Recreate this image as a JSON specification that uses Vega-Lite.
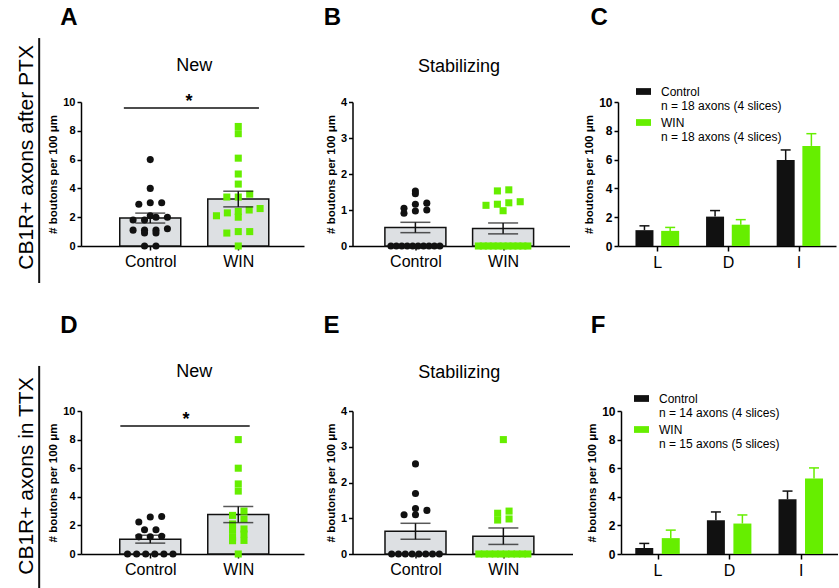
{
  "$schema": "https://vega.github.io/schema/vega-lite/v6.json",
  "background": "white",
  "padding": {"left": 16, "top": 5, "right": 0, "bottom": 0},
  "config": {
    "font": "Liberation Sans",
    "view": {"stroke": null},
    "axis": {"domainColor": "#000", "domainWidth": 1.5, "tickColor": "#000", "tickWidth": 1.5, "labelColor": "#000", "titleColor": "#000", "grid": false, "labelFont": "Liberation Sans", "titleFont": "Liberation Sans", "labelOverlap": false, "labelFlush": false, "labelBound": false},
    "legend": {"labelFont": "Liberation Sans", "labelColor": "#000"},
    "text": {"font": "Liberation Sans", "color": "#000"}
  },
  "datasets": {
    "pts": [
      {"panel": "A", "group": "Control", "v": 6.0}, {"panel": "A", "group": "Control", "v": 4.0}, {"panel": "A", "group": "Control", "v": 3.0}, {"panel": "A", "group": "Control", "v": 3.0}, {"panel": "A", "group": "Control", "v": 2.9}, {"panel": "A", "group": "Control", "v": 2.1}, {"panel": "A", "group": "Control", "v": 2.0}, {"panel": "A", "group": "Control", "v": 2.0}, {"panel": "A", "group": "Control", "v": 1.8}, {"panel": "A", "group": "Control", "v": 1.8}, {"panel": "A", "group": "Control", "v": 1.2}, {"panel": "A", "group": "Control", "v": 1.1}, {"panel": "A", "group": "Control", "v": 1.1}, {"panel": "A", "group": "Control", "v": 1.1}, {"panel": "A", "group": "Control", "v": 0.9}, {"panel": "A", "group": "Control", "v": 0.9}, {"panel": "A", "group": "Control", "v": 0}, {"panel": "A", "group": "Control", "v": 0},
      {"panel": "A", "group": "WIN", "v": 8.3}, {"panel": "A", "group": "WIN", "v": 7.8}, {"panel": "A", "group": "WIN", "v": 6.1}, {"panel": "A", "group": "WIN", "v": 5.0}, {"panel": "A", "group": "WIN", "v": 4.3}, {"panel": "A", "group": "WIN", "v": 3.6}, {"panel": "A", "group": "WIN", "v": 3.4}, {"panel": "A", "group": "WIN", "v": 3.4}, {"panel": "A", "group": "WIN", "v": 2.6}, {"panel": "A", "group": "WIN", "v": 2.5}, {"panel": "A", "group": "WIN", "v": 2.4}, {"panel": "A", "group": "WIN", "v": 2.3}, {"panel": "A", "group": "WIN", "v": 2.1}, {"panel": "A", "group": "WIN", "v": 2.0}, {"panel": "A", "group": "WIN", "v": 1.0}, {"panel": "A", "group": "WIN", "v": 1.0}, {"panel": "A", "group": "WIN", "v": 0.9}, {"panel": "A", "group": "WIN", "v": 0},
      {"panel": "B", "group": "Control", "v": 1.53}, {"panel": "B", "group": "Control", "v": 1.45}, {"panel": "B", "group": "Control", "v": 1.19}, {"panel": "B", "group": "Control", "v": 1.16}, {"panel": "B", "group": "Control", "v": 1.05}, {"panel": "B", "group": "Control", "v": 1.0}, {"panel": "B", "group": "Control", "v": 0.97}, {"panel": "B", "group": "Control", "v": 0.91}, {"panel": "B", "group": "Control", "v": 0}, {"panel": "B", "group": "Control", "v": 0}, {"panel": "B", "group": "Control", "v": 0}, {"panel": "B", "group": "Control", "v": 0}, {"panel": "B", "group": "Control", "v": 0}, {"panel": "B", "group": "Control", "v": 0}, {"panel": "B", "group": "Control", "v": 0}, {"panel": "B", "group": "Control", "v": 0}, {"panel": "B", "group": "Control", "v": 0}, {"panel": "B", "group": "Control", "v": 0},
      {"panel": "B", "group": "WIN", "v": 1.56}, {"panel": "B", "group": "WIN", "v": 1.53}, {"panel": "B", "group": "WIN", "v": 1.23}, {"panel": "B", "group": "WIN", "v": 1.2}, {"panel": "B", "group": "WIN", "v": 1.16}, {"panel": "B", "group": "WIN", "v": 1.13}, {"panel": "B", "group": "WIN", "v": 0.98}, {"panel": "B", "group": "WIN", "v": 0}, {"panel": "B", "group": "WIN", "v": 0}, {"panel": "B", "group": "WIN", "v": 0}, {"panel": "B", "group": "WIN", "v": 0}, {"panel": "B", "group": "WIN", "v": 0}, {"panel": "B", "group": "WIN", "v": 0}, {"panel": "B", "group": "WIN", "v": 0}, {"panel": "B", "group": "WIN", "v": 0}, {"panel": "B", "group": "WIN", "v": 0}, {"panel": "B", "group": "WIN", "v": 0}, {"panel": "B", "group": "WIN", "v": 0},
      {"panel": "D", "group": "Control", "v": 2.62}, {"panel": "D", "group": "Control", "v": 2.59}, {"panel": "D", "group": "Control", "v": 2.24}, {"panel": "D", "group": "Control", "v": 1.7}, {"panel": "D", "group": "Control", "v": 1.7}, {"panel": "D", "group": "Control", "v": 1.24}, {"panel": "D", "group": "Control", "v": 1.2}, {"panel": "D", "group": "Control", "v": 1.2}, {"panel": "D", "group": "Control", "v": 0}, {"panel": "D", "group": "Control", "v": 0}, {"panel": "D", "group": "Control", "v": 0}, {"panel": "D", "group": "Control", "v": 0}, {"panel": "D", "group": "Control", "v": 0}, {"panel": "D", "group": "Control", "v": 0},
      {"panel": "D", "group": "WIN", "v": 8.0}, {"panel": "D", "group": "WIN", "v": 6.0}, {"panel": "D", "group": "WIN", "v": 4.9}, {"panel": "D", "group": "WIN", "v": 4.4}, {"panel": "D", "group": "WIN", "v": 3.0}, {"panel": "D", "group": "WIN", "v": 2.7}, {"panel": "D", "group": "WIN", "v": 2.45}, {"panel": "D", "group": "WIN", "v": 2.1}, {"panel": "D", "group": "WIN", "v": 1.75}, {"panel": "D", "group": "WIN", "v": 1.65}, {"panel": "D", "group": "WIN", "v": 1.4}, {"panel": "D", "group": "WIN", "v": 1.15}, {"panel": "D", "group": "WIN", "v": 0.95}, {"panel": "D", "group": "WIN", "v": 0.93}, {"panel": "D", "group": "WIN", "v": 0},
      {"panel": "E", "group": "Control", "v": 2.52}, {"panel": "E", "group": "Control", "v": 1.69}, {"panel": "E", "group": "Control", "v": 1.27}, {"panel": "E", "group": "Control", "v": 1.22}, {"panel": "E", "group": "Control", "v": 1.1}, {"panel": "E", "group": "Control", "v": 1.1}, {"panel": "E", "group": "Control", "v": 0}, {"panel": "E", "group": "Control", "v": 0}, {"panel": "E", "group": "Control", "v": 0}, {"panel": "E", "group": "Control", "v": 0}, {"panel": "E", "group": "Control", "v": 0}, {"panel": "E", "group": "Control", "v": 0}, {"panel": "E", "group": "Control", "v": 0}, {"panel": "E", "group": "Control", "v": 0},
      {"panel": "E", "group": "WIN", "v": 3.2}, {"panel": "E", "group": "WIN", "v": 1.2}, {"panel": "E", "group": "WIN", "v": 1.14}, {"panel": "E", "group": "WIN", "v": 0.98}, {"panel": "E", "group": "WIN", "v": 0.95}, {"panel": "E", "group": "WIN", "v": 0}, {"panel": "E", "group": "WIN", "v": 0}, {"panel": "E", "group": "WIN", "v": 0}, {"panel": "E", "group": "WIN", "v": 0}, {"panel": "E", "group": "WIN", "v": 0}, {"panel": "E", "group": "WIN", "v": 0}, {"panel": "E", "group": "WIN", "v": 0}, {"panel": "E", "group": "WIN", "v": 0}, {"panel": "E", "group": "WIN", "v": 0}, {"panel": "E", "group": "WIN", "v": 0}
    ],
    "bars": [
      {"panel": "C", "region": "L", "group": "Control", "mean": 1.1, "upper": 1.4},
      {"panel": "C", "region": "L", "group": "WIN", "mean": 1.05, "upper": 1.29},
      {"panel": "C", "region": "D", "group": "Control", "mean": 2.04, "upper": 2.46},
      {"panel": "C", "region": "D", "group": "WIN", "mean": 1.48, "upper": 1.83},
      {"panel": "C", "region": "I", "group": "Control", "mean": 5.97, "upper": 6.67},
      {"panel": "C", "region": "I", "group": "WIN", "mean": 6.95, "upper": 7.8},
      {"panel": "F", "region": "L", "group": "Control", "mean": 0.42, "upper": 0.74},
      {"panel": "F", "region": "L", "group": "WIN", "mean": 1.11, "upper": 1.67},
      {"panel": "F", "region": "D", "group": "Control", "mean": 2.36, "upper": 2.94},
      {"panel": "F", "region": "D", "group": "WIN", "mean": 2.13, "upper": 2.73},
      {"panel": "F", "region": "I", "group": "Control", "mean": 3.82, "upper": 4.4},
      {"panel": "F", "region": "I", "group": "WIN", "mean": 5.28, "upper": 6.02}
    ]
  },
  "bounds": "flush",
  "spacing": 309,
  "resolve": {"scale": {"color": "independent", "shape": "independent"}, "legend": {"color": "independent", "shape": "independent"}},
  "vconcat": [
    {
      "bounds": "flush",
      "spacing": 48.5,
      "resolve": {"scale": {"color": "independent", "shape": "independent"}, "legend": {"color": "independent", "shape": "independent"}},
      "hconcat": [
        {
          "width": 223, "height": 144,
          "layer": [
            {
              "data": {"name": "pts"},
              "transform": [{"filter": "datum.panel === 'A'"}, {"calculate": "datum.group === 'Control' ? 1 : 2", "as": "gx"}],
              "mark": {"type": "bar", "width": 61, "fill": "#DDE0E3", "stroke": "#111", "strokeWidth": 1.5},
              "encoding": {
                "x": {"field": "gx", "type": "quantitative", "title": null, "scale": {"domain": [0.27, 2.69], "nice": false, "zero": false}, "axis": {"values": [1, 2], "labelExpr": "datum.value === 1 ? 'Control' : 'WIN'", "title": null, "labelFontSize": 16, "labelPadding": 3, "tickSize": 4}},
                "y": {"aggregate": "mean", "field": "v", "type": "quantitative", "title": "# boutons per 100 μm", "scale": {"domain": [0, 10], "nice": false}, "axis": {"values": [0, 2, 4, 6, 8, 10], "tickCount": 6, "labelOverlap": false, "labelFontSize": 11, "labelFontWeight": "bold", "titleFontSize": 11.5, "titleFontWeight": "bold", "tickSize": 4, "labelPadding": 2}}
              }
            },
            {
              "data": {"name": "pts"},
              "transform": [{"filter": "datum.panel === 'A'"}, {"calculate": "datum.group === 'Control' ? 1 : 2", "as": "gx"}, {"calculate": "floor(datum.v * 14.4 / 7.5)", "as": "bin"}, {"window": [{"op": "row_number", "as": "rk"}], "groupby": ["gx", "bin"], "sort": [{"field": "v", "order": "ascending"}]}, {"joinaggregate": [{"op": "count", "as": "cnt"}], "groupby": ["gx", "bin"]}, {"calculate": "datum.gx + (datum.rk - (datum.cnt + 1) / 2) * min(0.13, 0.62 / datum.cnt)", "as": "xo"}],
              "mark": {"type": "point", "filled": true, "opacity": 1, "size": 50, "strokeWidth": 0},
              "encoding": {
                "x": {"field": "xo", "type": "quantitative", "title": null},
                "y": {"field": "v", "type": "quantitative", "title": "# boutons per 100 μm", "axis": {"values": [0, 2, 4, 6, 8, 10], "tickCount": 6, "labelOverlap": false}},
                "color": {"field": "group", "type": "nominal", "scale": {"domain": ["Control", "WIN"], "range": ["#111111", "#66EE00"]}, "legend": null},
                "shape": {"field": "group", "type": "nominal", "scale": {"domain": ["Control", "WIN"], "range": ["circle", "square"]}, "legend": null}
              }
            },
            {
              "data": {"name": "pts"},
              "transform": [{"filter": "datum.panel === 'A'"}, {"calculate": "datum.group === 'Control' ? 1 : 2", "as": "gx"}],
              "mark": {"type": "errorbar", "extent": "stderr", "orient": "vertical", "ticks": true, "color": "#111", "thickness": 1.5, "size": 30},
              "encoding": {"x": {"field": "gx", "type": "quantitative", "title": null}, "y": {"field": "v", "type": "quantitative", "title": "# boutons per 100 μm", "axis": {"values": [0, 2, 4, 6, 8, 10], "tickCount": 6, "labelOverlap": false}}}
            },
            {"data": {"values": [{}]}, "mark": {"type": "rule", "strokeWidth": 1.5, "color": "#111"}, "encoding": {"x": {"datum": 0.70}, "x2": {"datum": 2.235}, "y": {"datum": 9.58}}},
            {"data": {"values": [{}]}, "mark": {"type": "text", "text": "*", "fontSize": 18, "fontWeight": "bold", "align": "center", "baseline": "alphabetic"}, "encoding": {"x": {"datum": 1.44}, "y": {"datum": 9.65}}},
            {"data": {"values": [{}]}, "mark": {"type": "text", "text": "New", "fontSize": 18, "align": "center", "baseline": "alphabetic"}, "encoding": {"x": {"datum": 1.5}, "y": {"datum": 12.15}}},
            {"data": {"values": [{}]}, "mark": {"type": "text", "text": "A", "fontSize": 24, "fontWeight": "bold", "align": "left", "baseline": "alphabetic"}, "encoding": {"x": {"datum": -0.023}, "y": {"datum": 15.35}}},
            {"data": {"values": [{}]}, "mark": {"type": "text", "text": "CB1R+ axons after PTX", "fontSize": 21, "angle": 270, "align": "center", "baseline": "alphabetic"}, "encoding": {"x": {"datum": -0.327}, "y": {"datum": 6.15}}},
            {"data": {"values": [{}]}, "mark": {"type": "rule", "strokeWidth": 2, "color": "#111"}, "encoding": {"x": {"datum": -0.262}, "y": {"datum": 14.44}, "y2": {"datum": -2.57}}}
          ]
        },
        {
          "width": 217, "height": 144,
          "layer": [
            {
              "data": {"name": "pts"},
              "transform": [{"filter": "datum.panel === 'B'"}, {"calculate": "datum.group === 'Control' ? 1 : 2", "as": "gx"}],
              "mark": {"type": "bar", "width": 61, "fill": "#DDE0E3", "stroke": "#111", "strokeWidth": 1.5},
              "encoding": {
                "x": {"field": "gx", "type": "quantitative", "title": null, "scale": {"domain": [0.34, 2.70], "nice": false, "zero": false}, "axis": {"values": [1, 2], "labelExpr": "datum.value === 1 ? 'Control' : 'WIN'", "title": null, "labelFontSize": 16, "labelPadding": 3, "tickSize": 4}},
                "y": {"aggregate": "mean", "field": "v", "type": "quantitative", "title": "# boutons per 100 μm", "scale": {"domain": [0, 4], "nice": false}, "axis": {"values": [0, 1, 2, 3, 4], "tickCount": 5, "labelOverlap": false, "labelFontSize": 11, "labelFontWeight": "bold", "titleFontSize": 11.5, "titleFontWeight": "bold", "tickSize": 4, "labelPadding": 2}}
              }
            },
            {
              "data": {"name": "pts"},
              "transform": [{"filter": "datum.panel === 'B'"}, {"calculate": "datum.group === 'Control' ? 1 : 2", "as": "gx"}, {"calculate": "floor(datum.v * 36 / 7.5)", "as": "bin"}, {"window": [{"op": "row_number", "as": "rk"}], "groupby": ["gx", "bin"], "sort": [{"field": "v", "order": "ascending"}]}, {"joinaggregate": [{"op": "count", "as": "cnt"}], "groupby": ["gx", "bin"]}, {"calculate": "datum.gx + (datum.rk - (datum.cnt + 1) / 2) * min(0.13, 0.62 / datum.cnt)", "as": "xo"}],
              "mark": {"type": "point", "filled": true, "opacity": 1, "size": 50, "strokeWidth": 0},
              "encoding": {
                "x": {"field": "xo", "type": "quantitative", "title": null},
                "y": {"field": "v", "type": "quantitative", "title": "# boutons per 100 μm", "axis": {"values": [0, 1, 2, 3, 4], "tickCount": 5, "labelOverlap": false}},
                "color": {"field": "group", "type": "nominal", "scale": {"domain": ["Control", "WIN"], "range": ["#111111", "#66EE00"]}, "legend": null},
                "shape": {"field": "group", "type": "nominal", "scale": {"domain": ["Control", "WIN"], "range": ["circle", "square"]}, "legend": null}
              }
            },
            {
              "data": {"name": "pts"},
              "transform": [{"filter": "datum.panel === 'B'"}, {"calculate": "datum.group === 'Control' ? 1 : 2", "as": "gx"}],
              "mark": {"type": "errorbar", "extent": "stderr", "orient": "vertical", "ticks": true, "color": "#111", "thickness": 1.5, "size": 30},
              "encoding": {"x": {"field": "gx", "type": "quantitative", "title": null}, "y": {"field": "v", "type": "quantitative", "title": "# boutons per 100 μm", "axis": {"values": [0, 1, 2, 3, 4], "tickCount": 5, "labelOverlap": false}}}
            },
            {"data": {"values": [{}]}, "mark": {"type": "text", "text": "Stabilizing", "fontSize": 18, "align": "center", "baseline": "alphabetic"}, "encoding": {"x": {"datum": 1.497}, "y": {"datum": 4.84}}},
            {"data": {"values": [{}]}, "mark": {"type": "text", "text": "B", "fontSize": 24, "fontWeight": "bold", "align": "left", "baseline": "alphabetic"}, "encoding": {"x": {"datum": -0.046}, "y": {"datum": 6.14}}}
          ]
        },
        {
          "width": 218, "height": 144,
          "layer": [
            {
              "data": {"name": "bars"},
              "transform": [{"filter": "datum.panel === 'C'"}, {"calculate": "indexof(['L','D','I'], datum.region) + 1 + (datum.group === 'Control' ? -0.182 : 0.182)", "as": "xb"}],
              "mark": {"type": "bar", "width": 18, "opacity": 1},
              "encoding": {
                "x": {"field": "xb", "type": "quantitative", "title": null, "scale": {"domain": [0.514, 3.46], "nice": false, "zero": false}, "axis": {"values": [1, 2, 3], "labelExpr": "['L','D','I'][datum.value - 1]", "title": null, "labelFontSize": 16, "labelPadding": 3, "tickSize": 5}},
                "y": {"field": "mean", "type": "quantitative", "title": "# boutons per 100 μm", "scale": {"domain": [0, 10], "nice": false}, "axis": {"values": [0, 2, 4, 6, 8, 10], "tickCount": 6, "labelOverlap": false, "labelFontSize": 12, "labelFontWeight": "bold", "titleFontSize": 11.5, "titleFontWeight": "bold", "tickSize": 4, "labelPadding": 2}},
                "color": {"field": "group", "type": "nominal", "scale": {"domain": ["Control", "WIN"], "range": ["#111111", "#66EE00"]}, "legend": {"orient": "none", "legendX": 18, "legendY": -18, "title": null, "padding": 0, "symbolType": "M-1,-0.45H1V0.45H-1Z", "symbolSize": 225, "symbolStrokeWidth": 0, "symbolOpacity": 1, "labelFontSize": 12, "labelOffset": 10, "rowPadding": 3, "labelExpr": "datum.label === 'Control' ? ['Control', 'n = 18 axons (4 slices)'] : ['WIN', 'n = 18 axons (4 slices)']"}}
              }
            },
            {
              "data": {"name": "bars"},
              "transform": [{"filter": "datum.panel === 'C'"}, {"calculate": "indexof(['L','D','I'], datum.region) + 1 + (datum.group === 'Control' ? -0.182 : 0.182)", "as": "xb"}],
              "mark": {"type": "rule", "strokeWidth": 1.5},
              "encoding": {"x": {"field": "xb", "type": "quantitative", "title": null}, "y": {"field": "mean", "type": "quantitative", "title": "# boutons per 100 μm", "axis": {"values": [0, 2, 4, 6, 8, 10], "tickCount": 6, "labelOverlap": false}}, "y2": {"field": "upper"}, "color": {"field": "group", "type": "nominal"}}
            },
            {
              "data": {"name": "bars"},
              "transform": [{"filter": "datum.panel === 'C'"}, {"calculate": "indexof(['L','D','I'], datum.region) + 1 + (datum.group === 'Control' ? -0.182 : 0.182)", "as": "xb"}],
              "mark": {"type": "tick", "thickness": 1.5, "size": 10, "orient": "horizontal", "opacity": 1},
              "encoding": {"x": {"field": "xb", "type": "quantitative", "title": null}, "y": {"field": "upper", "type": "quantitative", "title": "# boutons per 100 μm", "axis": {"values": [0, 2, 4, 6, 8, 10], "tickCount": 6, "labelOverlap": false}}, "color": {"field": "group", "type": "nominal"}}
            },
            {"data": {"values": [{}]}, "mark": {"type": "text", "text": "C", "fontSize": 24, "fontWeight": "bold", "align": "left", "baseline": "alphabetic"}, "encoding": {"x": {"datum": 0.055}, "y": {"datum": 15.35}}}
          ]
        }
      ]
    },
    {
      "bounds": "flush",
      "spacing": 48.5,
      "resolve": {"scale": {"color": "independent", "shape": "independent"}, "legend": {"color": "independent", "shape": "independent"}},
      "hconcat": [
        {
          "width": 223, "height": 143,
          "layer": [
            {
              "data": {"name": "pts"},
              "transform": [{"filter": "datum.panel === 'D'"}, {"calculate": "datum.group === 'Control' ? 1 : 2", "as": "gx"}],
              "mark": {"type": "bar", "width": 61, "fill": "#DDE0E3", "stroke": "#111", "strokeWidth": 1.5},
              "encoding": {
                "x": {"field": "gx", "type": "quantitative", "title": null, "scale": {"domain": [0.27, 2.69], "nice": false, "zero": false}, "axis": {"values": [1, 2], "labelExpr": "datum.value === 1 ? 'Control' : 'WIN'", "title": null, "labelFontSize": 16, "labelPadding": 3, "tickSize": 4}},
                "y": {"aggregate": "mean", "field": "v", "type": "quantitative", "title": "# boutons per 100 μm", "scale": {"domain": [0, 10], "nice": false}, "axis": {"values": [0, 2, 4, 6, 8, 10], "tickCount": 6, "labelOverlap": false, "labelFontSize": 11, "labelFontWeight": "bold", "titleFontSize": 11.5, "titleFontWeight": "bold", "tickSize": 4, "labelPadding": 2}}
              }
            },
            {
              "data": {"name": "pts"},
              "transform": [{"filter": "datum.panel === 'D'"}, {"calculate": "datum.group === 'Control' ? 1 : 2", "as": "gx"}, {"calculate": "floor(datum.v * 14.3 / 7.5)", "as": "bin"}, {"window": [{"op": "row_number", "as": "rk"}], "groupby": ["gx", "bin"], "sort": [{"field": "v", "order": "ascending"}]}, {"joinaggregate": [{"op": "count", "as": "cnt"}], "groupby": ["gx", "bin"]}, {"calculate": "datum.gx + (datum.rk - (datum.cnt + 1) / 2) * min(0.13, 0.62 / datum.cnt)", "as": "xo"}],
              "mark": {"type": "point", "filled": true, "opacity": 1, "size": 50, "strokeWidth": 0},
              "encoding": {
                "x": {"field": "xo", "type": "quantitative", "title": null},
                "y": {"field": "v", "type": "quantitative", "title": "# boutons per 100 μm", "axis": {"values": [0, 2, 4, 6, 8, 10], "tickCount": 6, "labelOverlap": false}},
                "color": {"field": "group", "type": "nominal", "scale": {"domain": ["Control", "WIN"], "range": ["#111111", "#66EE00"]}, "legend": null},
                "shape": {"field": "group", "type": "nominal", "scale": {"domain": ["Control", "WIN"], "range": ["circle", "square"]}, "legend": null}
              }
            },
            {
              "data": {"name": "pts"},
              "transform": [{"filter": "datum.panel === 'D'"}, {"calculate": "datum.group === 'Control' ? 1 : 2", "as": "gx"}],
              "mark": {"type": "errorbar", "extent": "stderr", "orient": "vertical", "ticks": true, "color": "#111", "thickness": 1.5, "size": 30},
              "encoding": {"x": {"field": "gx", "type": "quantitative", "title": null}, "y": {"field": "v", "type": "quantitative", "title": "# boutons per 100 μm", "axis": {"values": [0, 2, 4, 6, 8, 10], "tickCount": 6, "labelOverlap": false}}}
            },
            {"data": {"values": [{}]}, "mark": {"type": "rule", "strokeWidth": 1.5, "color": "#111"}, "encoding": {"x": {"datum": 0.66}, "x2": {"datum": 2.13}, "y": {"datum": 8.95}}},
            {"data": {"values": [{}]}, "mark": {"type": "text", "text": "*", "fontSize": 18, "fontWeight": "bold", "align": "center", "baseline": "alphabetic"}, "encoding": {"x": {"datum": 1.407}, "y": {"datum": 9.0}}},
            {"data": {"values": [{}]}, "mark": {"type": "text", "text": "New", "fontSize": 18, "align": "center", "baseline": "alphabetic"}, "encoding": {"x": {"datum": 1.5}, "y": {"datum": 12.38}}},
            {"data": {"values": [{}]}, "mark": {"type": "text", "text": "D", "fontSize": 24, "fontWeight": "bold", "align": "left", "baseline": "alphabetic"}, "encoding": {"x": {"datum": -0.023}, "y": {"datum": 15.45}}},
            {"data": {"values": [{}]}, "mark": {"type": "text", "text": "CB1R+ axons in TTX", "fontSize": 21, "angle": 270, "align": "center", "baseline": "alphabetic"}, "encoding": {"x": {"datum": -0.327}, "y": {"datum": 5.45}}},
            {"data": {"values": [{}]}, "mark": {"type": "rule", "strokeWidth": 2, "color": "#111"}, "encoding": {"x": {"datum": -0.262}, "y": {"datum": 13.15}, "y2": {"datum": -2.6}}}
          ]
        },
        {
          "width": 220, "height": 143,
          "layer": [
            {
              "data": {"name": "pts"},
              "transform": [{"filter": "datum.panel === 'E'"}, {"calculate": "datum.group === 'Control' ? 1 : 2", "as": "gx"}],
              "mark": {"type": "bar", "width": 61, "fill": "#DDE0E3", "stroke": "#111", "strokeWidth": 1.5},
              "encoding": {
                "x": {"field": "gx", "type": "quantitative", "title": null, "scale": {"domain": [0.34, 2.73], "nice": false, "zero": false}, "axis": {"values": [1, 2], "labelExpr": "datum.value === 1 ? 'Control' : 'WIN'", "title": null, "labelFontSize": 16, "labelPadding": 3, "tickSize": 4}},
                "y": {"aggregate": "mean", "field": "v", "type": "quantitative", "title": "# boutons per 100 μm", "scale": {"domain": [0, 4], "nice": false}, "axis": {"values": [0, 1, 2, 3, 4], "tickCount": 5, "labelOverlap": false, "labelFontSize": 11, "labelFontWeight": "bold", "titleFontSize": 11.5, "titleFontWeight": "bold", "tickSize": 4, "labelPadding": 2}}
              }
            },
            {
              "data": {"name": "pts"},
              "transform": [{"filter": "datum.panel === 'E'"}, {"calculate": "datum.group === 'Control' ? 1 : 2", "as": "gx"}, {"calculate": "floor(datum.v * 35.75 / 7.5)", "as": "bin"}, {"window": [{"op": "row_number", "as": "rk"}], "groupby": ["gx", "bin"], "sort": [{"field": "v", "order": "ascending"}]}, {"joinaggregate": [{"op": "count", "as": "cnt"}], "groupby": ["gx", "bin"]}, {"calculate": "datum.gx + (datum.rk - (datum.cnt + 1) / 2) * min(0.13, 0.62 / datum.cnt)", "as": "xo"}],
              "mark": {"type": "point", "filled": true, "opacity": 1, "size": 50, "strokeWidth": 0},
              "encoding": {
                "x": {"field": "xo", "type": "quantitative", "title": null},
                "y": {"field": "v", "type": "quantitative", "title": "# boutons per 100 μm", "axis": {"values": [0, 1, 2, 3, 4], "tickCount": 5, "labelOverlap": false}},
                "color": {"field": "group", "type": "nominal", "scale": {"domain": ["Control", "WIN"], "range": ["#111111", "#66EE00"]}, "legend": null},
                "shape": {"field": "group", "type": "nominal", "scale": {"domain": ["Control", "WIN"], "range": ["circle", "square"]}, "legend": null}
              }
            },
            {
              "data": {"name": "pts"},
              "transform": [{"filter": "datum.panel === 'E'"}, {"calculate": "datum.group === 'Control' ? 1 : 2", "as": "gx"}],
              "mark": {"type": "errorbar", "extent": "stderr", "orient": "vertical", "ticks": true, "color": "#111", "thickness": 1.5, "size": 30},
              "encoding": {"x": {"field": "gx", "type": "quantitative", "title": null}, "y": {"field": "v", "type": "quantitative", "title": "# boutons per 100 μm", "axis": {"values": [0, 1, 2, 3, 4], "tickCount": 5, "labelOverlap": false}}}
            },
            {"data": {"values": [{}]}, "mark": {"type": "text", "text": "Stabilizing", "fontSize": 18, "align": "center", "baseline": "alphabetic"}, "encoding": {"x": {"datum": 1.497}, "y": {"datum": 4.92}}},
            {"data": {"values": [{}]}, "mark": {"type": "text", "text": "E", "fontSize": 24, "fontWeight": "bold", "align": "left", "baseline": "alphabetic"}, "encoding": {"x": {"datum": -0.046}, "y": {"datum": 6.18}}}
          ]
        },
        {
          "width": 217, "height": 143,
          "layer": [
            {
              "data": {"name": "bars"},
              "transform": [{"filter": "datum.panel === 'F'"}, {"calculate": "indexof(['L','D','I'], datum.region) + 1 + (datum.group === 'Control' ? -0.185 : 0.185)", "as": "xb"}],
              "mark": {"type": "bar", "width": 18, "opacity": 1},
              "encoding": {
                "x": {"field": "xb", "type": "quantitative", "title": null, "scale": {"domain": [0.56, 3.45], "nice": false, "zero": false}, "axis": {"values": [1, 2, 3], "labelExpr": "['L','D','I'][datum.value - 1]", "title": null, "labelFontSize": 16, "labelPadding": 3, "tickSize": 5}},
                "y": {"field": "mean", "type": "quantitative", "title": "# boutons per 100 μm", "scale": {"domain": [0, 10], "nice": false}, "axis": {"values": [0, 2, 4, 6, 8, 10], "tickCount": 6, "labelOverlap": false, "labelFontSize": 12, "labelFontWeight": "bold", "titleFontSize": 11.5, "titleFontWeight": "bold", "tickSize": 4, "labelPadding": 2}},
                "color": {"field": "group", "type": "nominal", "scale": {"domain": ["Control", "WIN"], "range": ["#111111", "#66EE00"]}, "legend": {"orient": "none", "legendX": 13, "legendY": -20, "title": null, "padding": 0, "symbolType": "M-1,-0.45H1V0.45H-1Z", "symbolSize": 225, "symbolStrokeWidth": 0, "symbolOpacity": 1, "labelFontSize": 12, "labelOffset": 10, "rowPadding": 3, "labelExpr": "datum.label === 'Control' ? ['Control', 'n = 14 axons (4 slices)'] : ['WIN', 'n = 15 axons (5 slices)']"}}
              }
            },
            {
              "data": {"name": "bars"},
              "transform": [{"filter": "datum.panel === 'F'"}, {"calculate": "indexof(['L','D','I'], datum.region) + 1 + (datum.group === 'Control' ? -0.185 : 0.185)", "as": "xb"}],
              "mark": {"type": "rule", "strokeWidth": 1.5},
              "encoding": {"x": {"field": "xb", "type": "quantitative", "title": null}, "y": {"field": "mean", "type": "quantitative", "title": "# boutons per 100 μm", "axis": {"values": [0, 2, 4, 6, 8, 10], "tickCount": 6, "labelOverlap": false}}, "y2": {"field": "upper"}, "color": {"field": "group", "type": "nominal"}}
            },
            {
              "data": {"name": "bars"},
              "transform": [{"filter": "datum.panel === 'F'"}, {"calculate": "indexof(['L','D','I'], datum.region) + 1 + (datum.group === 'Control' ? -0.185 : 0.185)", "as": "xb"}],
              "mark": {"type": "tick", "thickness": 1.5, "size": 10, "orient": "horizontal", "opacity": 1},
              "encoding": {"x": {"field": "xb", "type": "quantitative", "title": null}, "y": {"field": "upper", "type": "quantitative", "title": "# boutons per 100 μm", "axis": {"values": [0, 2, 4, 6, 8, 10], "tickCount": 6, "labelOverlap": false}}, "color": {"field": "group", "type": "nominal"}}
            },
            {"data": {"values": [{}]}, "mark": {"type": "text", "text": "F", "fontSize": 24, "fontWeight": "bold", "align": "left", "baseline": "alphabetic"}, "encoding": {"x": {"datum": 0.067}, "y": {"datum": 15.45}}}
          ]
        }
      ]
    }
  ]
}
